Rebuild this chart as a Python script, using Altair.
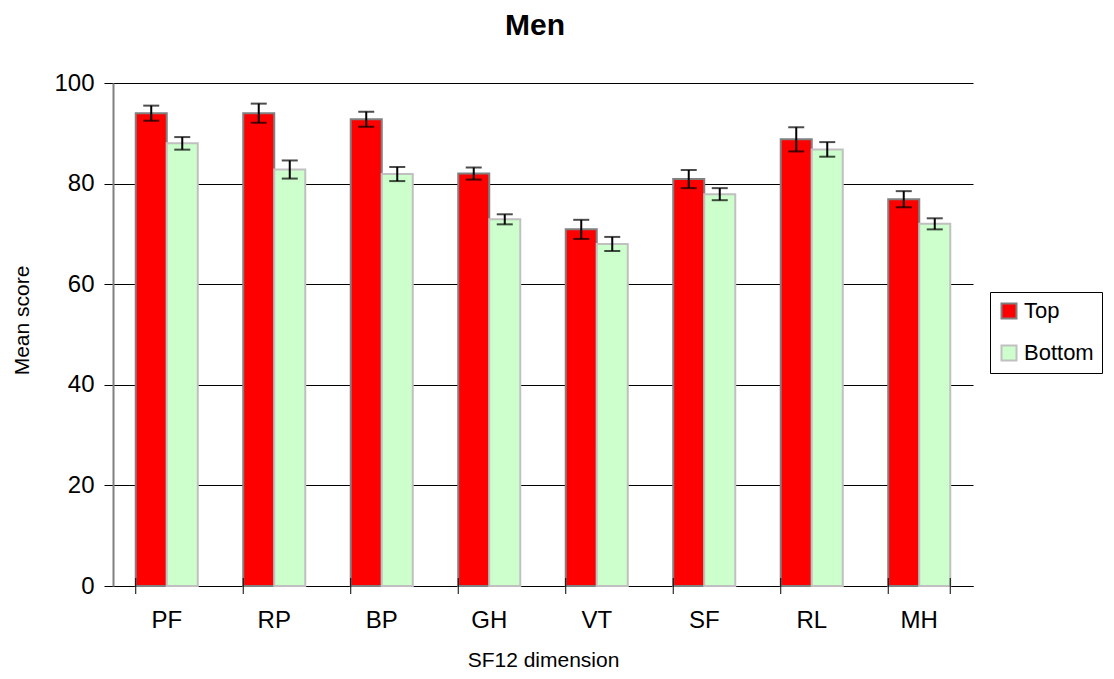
import altair as alt
import pandas as pd

dims = ["PF", "RP", "BP", "GH", "VT", "SF", "RL", "MH"]
groups = ["Top", "Bottom"]
top_mean = [94.0, 94.0, 92.8, 82.0, 70.9, 80.9, 88.8, 76.9]
top_err = [1.5, 1.9, 1.5, 1.2, 1.9, 1.8, 2.4, 1.6]
bottom_mean = [88.0, 82.8, 81.9, 72.9, 68.0, 77.9, 86.8, 72.0]
bottom_err = [1.25, 1.8, 1.4, 1.0, 1.4, 1.2, 1.45, 1.1]
y_ticks = [0, 20, 40, 60, 80, 100]

rows = []
for i, d in enumerate(dims):
    rows.append({"dim": d, "group": "Top", "mean": top_mean[i],
                 "lo": top_mean[i] - top_err[i], "hi": top_mean[i] + top_err[i]})
    rows.append({"dim": d, "group": "Bottom", "mean": bottom_mean[i],
                 "lo": bottom_mean[i] - bottom_err[i], "hi": bottom_mean[i] + bottom_err[i]})
df = pd.DataFrame(rows)
ticks_df = pd.DataFrame({"dim": dims})

W, H = 860, 503
FONT = "Liberation Sans"

xscale = alt.Scale(domain=dims, paddingInner=0.423, paddingOuter=0.2115)
xoff = alt.XOffset("group:N", scale=alt.Scale(domain=groups, paddingInner=0, paddingOuter=0))
yscale = alt.Scale(domain=[0, 100], nice=False)

x_enc = alt.X("dim:N", scale=xscale, sort=dims,
              axis=alt.Axis(title="SF12 dimension", labelAngle=0, ticks=False, tickSize=0,
                            labelPadding=22, titlePadding=17, domainColor="#000000",
                            domainWidth=1, labelFontSize=24, titleFontSize=21))
y_enc = alt.Y("mean:Q", scale=yscale,
              axis=alt.Axis(title="Mean score", values=y_ticks, grid=True, gridColor="#000000",
                            gridWidth=1, tickColor="#000000", tickSize=9, labelPadding=10,
                            domainColor="#808080", domainWidth=2, titlePadding=21,
                            titleY=237, labelFontSize=24, titleFontSize=21))

bars = alt.Chart(df).mark_bar(strokeWidth=2).encode(
    x=x_enc,
    xOffset=xoff,
    y=y_enc,
    color=alt.Color("group:N", scale=alt.Scale(domain=groups, range=["#FF0000", "#CCFFCC"]),
                    legend=alt.Legend(title=None, orient="none", legendX=877, legendY=209,
                                      strokeColor="#000000", fillColor="#FFFFFF", padding=8,
                                      symbolType="square", symbolSize=225, symbolStrokeWidth=2,
                                      labelFontSize=22, labelFont=FONT, rowPadding=18,
                                      labelOffset=4, offset=0)),
    stroke=alt.Stroke("group:N", scale=alt.Scale(domain=groups, range=["#808080", "#C0C0C0"]),
                      legend=alt.Legend(title=None, orient="none", legendX=877, legendY=209)),
)

err_rule = alt.Chart(df).mark_rule(color="#000000", strokeWidth=2).encode(
    x=alt.X("dim:N", scale=xscale, sort=dims),
    xOffset=xoff,
    y=alt.Y("lo:Q", scale=yscale),
    y2="hi:Q",
)
cap_lo = alt.Chart(df).mark_tick(color="#000000", thickness=2, size=16).encode(
    x=alt.X("dim:N", scale=xscale, sort=dims),
    xOffset=xoff,
    y=alt.Y("lo:Q", scale=yscale),
)
cap_hi = alt.Chart(df).mark_tick(color="#000000", thickness=2, size=16).encode(
    x=alt.X("dim:N", scale=xscale, sort=dims),
    xOffset=xoff,
    y=alt.Y("hi:Q", scale=yscale),
)

xticks_left = alt.Chart(ticks_df).mark_rule(color="#000000", strokeWidth=1).encode(
    x=alt.X("dim:N", scale=xscale, sort=dims, bandPosition=0),
    y=alt.value(H - 8),
    y2=alt.value(H + 8),
)
xticks_right = alt.Chart(ticks_df).transform_filter(
    alt.datum.dim == dims[-1]
).mark_rule(color="#000000", strokeWidth=1).encode(
    x=alt.X("dim:N", scale=xscale, sort=dims, bandPosition=1),
    y=alt.value(H - 8),
    y2=alt.value(H + 8),
)

chart = alt.layer(bars, err_rule, cap_lo, cap_hi, xticks_left, xticks_right).properties(
    width=W, height=H,
    title=alt.TitleParams("Men", fontSize=30, fontWeight="bold", font=FONT, offset=30, dx=-8),
    autosize=alt.AutoSizeParams(type="none"),
    padding={"left": 105, "top": 75, "right": 133, "bottom": 85},
).configure(font=FONT).configure_view(stroke=None).configure_axis(
    labelFont=FONT, titleFont=FONT, labelColor="#000000", titleColor="#000000",
    titleFontWeight="normal"
)

chart.save("out.html", embed_options={"renderer": "svg", "actions": False})
